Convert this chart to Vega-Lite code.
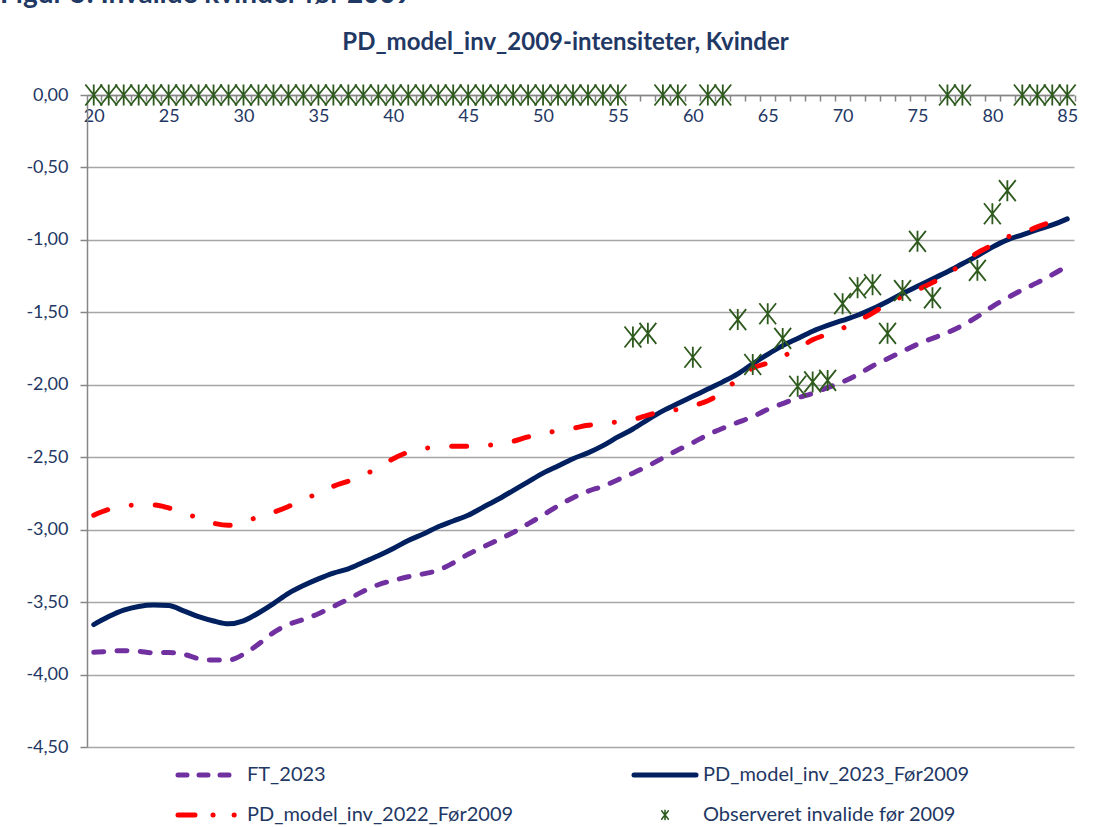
{
  "$schema": "https://vega.github.io/schema/vega-lite/v6.json",
  "padding": {"left": 0, "top": -20, "right": 0, "bottom": 0},
  "background": "white",
  "config": {"font": "Lato", "view": {"stroke": null}, "concat": {"spacing": 0}},
  "title": {"text": "Figur 5: Invalide kvinder før 2009", "anchor": "start", "fontSize": 28, "fontWeight": "bold", "color": "#1F3864", "offset": 22},
  "data": {"values": [
    {"age":20,"series":"FT_2023","v":-3.846},{"age":21,"series":"FT_2023","v":-3.84},{"age":22,"series":"FT_2023","v":-3.835},{"age":23,"series":"FT_2023","v":-3.84},{"age":24,"series":"FT_2023","v":-3.85},{"age":25,"series":"FT_2023","v":-3.848},{"age":26,"series":"FT_2023","v":-3.86},{"age":27,"series":"FT_2023","v":-3.89},{"age":28,"series":"FT_2023","v":-3.90},{"age":29,"series":"FT_2023","v":-3.90},{"age":30,"series":"FT_2023","v":-3.86},{"age":31,"series":"FT_2023","v":-3.79},{"age":32,"series":"FT_2023","v":-3.71},{"age":33,"series":"FT_2023","v":-3.655},{"age":34,"series":"FT_2023","v":-3.62},{"age":35,"series":"FT_2023","v":-3.58},{"age":36,"series":"FT_2023","v":-3.53},{"age":37,"series":"FT_2023","v":-3.48},{"age":38,"series":"FT_2023","v":-3.425},{"age":39,"series":"FT_2023","v":-3.38},{"age":40,"series":"FT_2023","v":-3.35},{"age":41,"series":"FT_2023","v":-3.325},{"age":42,"series":"FT_2023","v":-3.305},{"age":43,"series":"FT_2023","v":-3.28},{"age":44,"series":"FT_2023","v":-3.23},{"age":45,"series":"FT_2023","v":-3.17},{"age":46,"series":"FT_2023","v":-3.12},{"age":47,"series":"FT_2023","v":-3.07},{"age":48,"series":"FT_2023","v":-3.02},{"age":49,"series":"FT_2023","v":-2.96},{"age":50,"series":"FT_2023","v":-2.90},{"age":51,"series":"FT_2023","v":-2.835},{"age":52,"series":"FT_2023","v":-2.78},{"age":53,"series":"FT_2023","v":-2.735},{"age":54,"series":"FT_2023","v":-2.70},{"age":55,"series":"FT_2023","v":-2.655},{"age":56,"series":"FT_2023","v":-2.61},{"age":57,"series":"FT_2023","v":-2.56},{"age":58,"series":"FT_2023","v":-2.505},{"age":59,"series":"FT_2023","v":-2.45},{"age":60,"series":"FT_2023","v":-2.40},{"age":61,"series":"FT_2023","v":-2.345},{"age":62,"series":"FT_2023","v":-2.30},{"age":63,"series":"FT_2023","v":-2.26},{"age":64,"series":"FT_2023","v":-2.22},{"age":65,"series":"FT_2023","v":-2.17},{"age":66,"series":"FT_2023","v":-2.13},{"age":67,"series":"FT_2023","v":-2.09},{"age":68,"series":"FT_2023","v":-2.06},{"age":69,"series":"FT_2023","v":-2.02},{"age":70,"series":"FT_2023","v":-1.98},{"age":71,"series":"FT_2023","v":-1.93},{"age":72,"series":"FT_2023","v":-1.87},{"age":73,"series":"FT_2023","v":-1.82},{"age":74,"series":"FT_2023","v":-1.77},{"age":75,"series":"FT_2023","v":-1.72},{"age":76,"series":"FT_2023","v":-1.68},{"age":77,"series":"FT_2023","v":-1.64},{"age":78,"series":"FT_2023","v":-1.59},{"age":79,"series":"FT_2023","v":-1.53},{"age":80,"series":"FT_2023","v":-1.46},{"age":81,"series":"FT_2023","v":-1.40},{"age":82,"series":"FT_2023","v":-1.345},{"age":83,"series":"FT_2023","v":-1.295},{"age":84,"series":"FT_2023","v":-1.24},{"age":85,"series":"FT_2023","v":-1.18},
    {"age":20,"series":"PD_model_inv_2023_Før2009","v":-3.655},{"age":21,"series":"PD_model_inv_2023_Før2009","v":-3.60},{"age":22,"series":"PD_model_inv_2023_Før2009","v":-3.556},{"age":23,"series":"PD_model_inv_2023_Før2009","v":-3.53},{"age":24,"series":"PD_model_inv_2023_Før2009","v":-3.52},{"age":25,"series":"PD_model_inv_2023_Før2009","v":-3.524},{"age":26,"series":"PD_model_inv_2023_Før2009","v":-3.56},{"age":27,"series":"PD_model_inv_2023_Før2009","v":-3.60},{"age":28,"series":"PD_model_inv_2023_Før2009","v":-3.63},{"age":29,"series":"PD_model_inv_2023_Før2009","v":-3.65},{"age":30,"series":"PD_model_inv_2023_Før2009","v":-3.63},{"age":31,"series":"PD_model_inv_2023_Før2009","v":-3.575},{"age":32,"series":"PD_model_inv_2023_Før2009","v":-3.51},{"age":33,"series":"PD_model_inv_2023_Før2009","v":-3.44},{"age":34,"series":"PD_model_inv_2023_Før2009","v":-3.386},{"age":35,"series":"PD_model_inv_2023_Før2009","v":-3.34},{"age":36,"series":"PD_model_inv_2023_Før2009","v":-3.30},{"age":37,"series":"PD_model_inv_2023_Før2009","v":-3.27},{"age":38,"series":"PD_model_inv_2023_Før2009","v":-3.225},{"age":39,"series":"PD_model_inv_2023_Før2009","v":-3.18},{"age":40,"series":"PD_model_inv_2023_Før2009","v":-3.13},{"age":41,"series":"PD_model_inv_2023_Før2009","v":-3.075},{"age":42,"series":"PD_model_inv_2023_Før2009","v":-3.03},{"age":43,"series":"PD_model_inv_2023_Før2009","v":-2.98},{"age":44,"series":"PD_model_inv_2023_Før2009","v":-2.94},{"age":45,"series":"PD_model_inv_2023_Før2009","v":-2.90},{"age":46,"series":"PD_model_inv_2023_Før2009","v":-2.845},{"age":47,"series":"PD_model_inv_2023_Før2009","v":-2.79},{"age":48,"series":"PD_model_inv_2023_Før2009","v":-2.73},{"age":49,"series":"PD_model_inv_2023_Før2009","v":-2.67},{"age":50,"series":"PD_model_inv_2023_Før2009","v":-2.61},{"age":51,"series":"PD_model_inv_2023_Før2009","v":-2.56},{"age":52,"series":"PD_model_inv_2023_Før2009","v":-2.51},{"age":53,"series":"PD_model_inv_2023_Før2009","v":-2.47},{"age":54,"series":"PD_model_inv_2023_Før2009","v":-2.42},{"age":55,"series":"PD_model_inv_2023_Før2009","v":-2.36},{"age":56,"series":"PD_model_inv_2023_Før2009","v":-2.305},{"age":57,"series":"PD_model_inv_2023_Før2009","v":-2.24},{"age":58,"series":"PD_model_inv_2023_Før2009","v":-2.18},{"age":59,"series":"PD_model_inv_2023_Før2009","v":-2.13},{"age":60,"series":"PD_model_inv_2023_Før2009","v":-2.08},{"age":61,"series":"PD_model_inv_2023_Før2009","v":-2.03},{"age":62,"series":"PD_model_inv_2023_Før2009","v":-1.98},{"age":63,"series":"PD_model_inv_2023_Før2009","v":-1.925},{"age":64,"series":"PD_model_inv_2023_Før2009","v":-1.855},{"age":65,"series":"PD_model_inv_2023_Før2009","v":-1.79},{"age":66,"series":"PD_model_inv_2023_Før2009","v":-1.73},{"age":67,"series":"PD_model_inv_2023_Før2009","v":-1.68},{"age":68,"series":"PD_model_inv_2023_Før2009","v":-1.63},{"age":69,"series":"PD_model_inv_2023_Før2009","v":-1.59},{"age":70,"series":"PD_model_inv_2023_Før2009","v":-1.556},{"age":71,"series":"PD_model_inv_2023_Før2009","v":-1.52},{"age":72,"series":"PD_model_inv_2023_Før2009","v":-1.476},{"age":73,"series":"PD_model_inv_2023_Før2009","v":-1.425},{"age":74,"series":"PD_model_inv_2023_Før2009","v":-1.37},{"age":75,"series":"PD_model_inv_2023_Før2009","v":-1.32},{"age":76,"series":"PD_model_inv_2023_Før2009","v":-1.27},{"age":77,"series":"PD_model_inv_2023_Før2009","v":-1.22},{"age":78,"series":"PD_model_inv_2023_Før2009","v":-1.165},{"age":79,"series":"PD_model_inv_2023_Før2009","v":-1.11},{"age":80,"series":"PD_model_inv_2023_Før2009","v":-1.05},{"age":81,"series":"PD_model_inv_2023_Før2009","v":-1.00},{"age":82,"series":"PD_model_inv_2023_Før2009","v":-0.965},{"age":83,"series":"PD_model_inv_2023_Før2009","v":-0.93},{"age":84,"series":"PD_model_inv_2023_Før2009","v":-0.897},{"age":85,"series":"PD_model_inv_2023_Før2009","v":-0.855},
    {"age":20,"series":"PD_model_inv_2022_Før2009","v":-2.90},{"age":21,"series":"PD_model_inv_2022_Før2009","v":-2.86},{"age":22,"series":"PD_model_inv_2022_Før2009","v":-2.835},{"age":23,"series":"PD_model_inv_2022_Før2009","v":-2.83},{"age":24,"series":"PD_model_inv_2022_Før2009","v":-2.83},{"age":25,"series":"PD_model_inv_2022_Før2009","v":-2.85},{"age":26,"series":"PD_model_inv_2022_Før2009","v":-2.885},{"age":27,"series":"PD_model_inv_2022_Før2009","v":-2.92},{"age":28,"series":"PD_model_inv_2022_Før2009","v":-2.955},{"age":29,"series":"PD_model_inv_2022_Før2009","v":-2.97},{"age":30,"series":"PD_model_inv_2022_Før2009","v":-2.95},{"age":31,"series":"PD_model_inv_2022_Før2009","v":-2.91},{"age":32,"series":"PD_model_inv_2022_Før2009","v":-2.88},{"age":33,"series":"PD_model_inv_2022_Før2009","v":-2.84},{"age":34,"series":"PD_model_inv_2022_Før2009","v":-2.79},{"age":35,"series":"PD_model_inv_2022_Før2009","v":-2.75},{"age":36,"series":"PD_model_inv_2022_Før2009","v":-2.70},{"age":37,"series":"PD_model_inv_2022_Før2009","v":-2.665},{"age":38,"series":"PD_model_inv_2022_Før2009","v":-2.625},{"age":39,"series":"PD_model_inv_2022_Før2009","v":-2.57},{"age":40,"series":"PD_model_inv_2022_Før2009","v":-2.51},{"age":41,"series":"PD_model_inv_2022_Før2009","v":-2.465},{"age":42,"series":"PD_model_inv_2022_Før2009","v":-2.44},{"age":43,"series":"PD_model_inv_2022_Før2009","v":-2.43},{"age":44,"series":"PD_model_inv_2022_Før2009","v":-2.425},{"age":45,"series":"PD_model_inv_2022_Før2009","v":-2.425},{"age":46,"series":"PD_model_inv_2022_Før2009","v":-2.42},{"age":47,"series":"PD_model_inv_2022_Før2009","v":-2.41},{"age":48,"series":"PD_model_inv_2022_Før2009","v":-2.39},{"age":49,"series":"PD_model_inv_2022_Før2009","v":-2.36},{"age":50,"series":"PD_model_inv_2022_Før2009","v":-2.34},{"age":51,"series":"PD_model_inv_2022_Før2009","v":-2.315},{"age":52,"series":"PD_model_inv_2022_Før2009","v":-2.30},{"age":53,"series":"PD_model_inv_2022_Før2009","v":-2.28},{"age":54,"series":"PD_model_inv_2022_Før2009","v":-2.27},{"age":55,"series":"PD_model_inv_2022_Før2009","v":-2.255},{"age":56,"series":"PD_model_inv_2022_Før2009","v":-2.24},{"age":57,"series":"PD_model_inv_2022_Før2009","v":-2.21},{"age":58,"series":"PD_model_inv_2022_Før2009","v":-2.18},{"age":59,"series":"PD_model_inv_2022_Før2009","v":-2.17},{"age":60,"series":"PD_model_inv_2022_Før2009","v":-2.145},{"age":61,"series":"PD_model_inv_2022_Før2009","v":-2.11},{"age":62,"series":"PD_model_inv_2022_Før2009","v":-2.05},{"age":63,"series":"PD_model_inv_2022_Før2009","v":-1.96},{"age":64,"series":"PD_model_inv_2022_Før2009","v":-1.885},{"age":65,"series":"PD_model_inv_2022_Før2009","v":-1.85},{"age":66,"series":"PD_model_inv_2022_Før2009","v":-1.805},{"age":67,"series":"PD_model_inv_2022_Før2009","v":-1.75},{"age":68,"series":"PD_model_inv_2022_Før2009","v":-1.69},{"age":69,"series":"PD_model_inv_2022_Før2009","v":-1.65},{"age":70,"series":"PD_model_inv_2022_Før2009","v":-1.61},{"age":71,"series":"PD_model_inv_2022_Før2009","v":-1.56},{"age":72,"series":"PD_model_inv_2022_Før2009","v":-1.505},{"age":73,"series":"PD_model_inv_2022_Før2009","v":-1.44},{"age":74,"series":"PD_model_inv_2022_Før2009","v":-1.39},{"age":75,"series":"PD_model_inv_2022_Før2009","v":-1.345},{"age":76,"series":"PD_model_inv_2022_Før2009","v":-1.295},{"age":77,"series":"PD_model_inv_2022_Før2009","v":-1.24},{"age":78,"series":"PD_model_inv_2022_Før2009","v":-1.16},{"age":79,"series":"PD_model_inv_2022_Før2009","v":-1.09},{"age":80,"series":"PD_model_inv_2022_Før2009","v":-1.035},{"age":81,"series":"PD_model_inv_2022_Før2009","v":-0.98},{"age":82,"series":"PD_model_inv_2022_Før2009","v":-0.955},{"age":83,"series":"PD_model_inv_2022_Før2009","v":-0.91},{"age":84,"series":"PD_model_inv_2022_Før2009","v":-0.874},{"age":85,"series":"PD_model_inv_2022_Før2009","v":-0.845},
    {"age":20,"series":"Observeret invalide før 2009","v":0},{"age":21,"series":"Observeret invalide før 2009","v":0},{"age":22,"series":"Observeret invalide før 2009","v":0},{"age":23,"series":"Observeret invalide før 2009","v":0},{"age":24,"series":"Observeret invalide før 2009","v":0},{"age":25,"series":"Observeret invalide før 2009","v":0},{"age":26,"series":"Observeret invalide før 2009","v":0},{"age":27,"series":"Observeret invalide før 2009","v":0},{"age":28,"series":"Observeret invalide før 2009","v":0},{"age":29,"series":"Observeret invalide før 2009","v":0},{"age":30,"series":"Observeret invalide før 2009","v":0},{"age":31,"series":"Observeret invalide før 2009","v":0},{"age":32,"series":"Observeret invalide før 2009","v":0},{"age":33,"series":"Observeret invalide før 2009","v":0},{"age":34,"series":"Observeret invalide før 2009","v":0},{"age":35,"series":"Observeret invalide før 2009","v":0},{"age":36,"series":"Observeret invalide før 2009","v":0},{"age":37,"series":"Observeret invalide før 2009","v":0},{"age":38,"series":"Observeret invalide før 2009","v":0},{"age":39,"series":"Observeret invalide før 2009","v":0},{"age":40,"series":"Observeret invalide før 2009","v":0},{"age":41,"series":"Observeret invalide før 2009","v":0},{"age":42,"series":"Observeret invalide før 2009","v":0},{"age":43,"series":"Observeret invalide før 2009","v":0},{"age":44,"series":"Observeret invalide før 2009","v":0},{"age":45,"series":"Observeret invalide før 2009","v":0},{"age":46,"series":"Observeret invalide før 2009","v":0},{"age":47,"series":"Observeret invalide før 2009","v":0},{"age":48,"series":"Observeret invalide før 2009","v":0},{"age":49,"series":"Observeret invalide før 2009","v":0},{"age":50,"series":"Observeret invalide før 2009","v":0},{"age":51,"series":"Observeret invalide før 2009","v":0},{"age":52,"series":"Observeret invalide før 2009","v":0},{"age":53,"series":"Observeret invalide før 2009","v":0},{"age":54,"series":"Observeret invalide før 2009","v":0},{"age":55,"series":"Observeret invalide før 2009","v":0},{"age":56,"series":"Observeret invalide før 2009","v":-1.67},{"age":57,"series":"Observeret invalide før 2009","v":-1.645},{"age":58,"series":"Observeret invalide før 2009","v":0},{"age":59,"series":"Observeret invalide før 2009","v":0},{"age":60,"series":"Observeret invalide før 2009","v":-1.81},{"age":61,"series":"Observeret invalide før 2009","v":0},{"age":62,"series":"Observeret invalide før 2009","v":0},{"age":63,"series":"Observeret invalide før 2009","v":-1.55},{"age":64,"series":"Observeret invalide før 2009","v":-1.86},{"age":65,"series":"Observeret invalide før 2009","v":-1.51},{"age":66,"series":"Observeret invalide før 2009","v":-1.68},{"age":67,"series":"Observeret invalide før 2009","v":-2.01},{"age":68,"series":"Observeret invalide før 2009","v":-1.98},{"age":69,"series":"Observeret invalide før 2009","v":-1.97},{"age":70,"series":"Observeret invalide før 2009","v":-1.44},{"age":71,"series":"Observeret invalide før 2009","v":-1.33},{"age":72,"series":"Observeret invalide før 2009","v":-1.31},{"age":73,"series":"Observeret invalide før 2009","v":-1.645},{"age":74,"series":"Observeret invalide før 2009","v":-1.35},{"age":75,"series":"Observeret invalide før 2009","v":-1.01},{"age":76,"series":"Observeret invalide før 2009","v":-1.40},{"age":77,"series":"Observeret invalide før 2009","v":0},{"age":78,"series":"Observeret invalide før 2009","v":0},{"age":79,"series":"Observeret invalide før 2009","v":-1.21},{"age":80,"series":"Observeret invalide før 2009","v":-0.82},{"age":81,"series":"Observeret invalide før 2009","v":-0.66},{"age":82,"series":"Observeret invalide før 2009","v":0},{"age":83,"series":"Observeret invalide før 2009","v":0},{"age":84,"series":"Observeret invalide før 2009","v":0},{"age":85,"series":"Observeret invalide før 2009","v":0}
  ]},
  "vconcat": [{
    "width": 987,
    "height": 652,
    "title": {"text": "PD_model_inv_2009-intensiteter, Kvinder", "anchor": "middle", "fontSize": 24, "fontWeight": "bold", "color": "#1F3864", "dx": -15, "offset": 26},
    "encoding": {
      "x": {"field": "age", "type": "quantitative",
        "scale": {"domain": [19.55, 85.45], "nice": false, "zero": false},
        "axis": {"orient": "bottom", "offset": -652, "title": null, "grid": false,
          "values": [20,21,22,23,24,25,26,27,28,29,30,31,32,33,34,35,36,37,38,39,40,41,42,43,44,45,46,47,48,49,50,51,52,53,54,55,56,57,58,59,60,61,62,63,64,65,66,67,68,69,70,71,72,73,74,75,76,77,78,79,80,81,82,83,84,85],
          "labelExpr": "datum.value % 5 === 0 ? datum.label : ''",
          "labelOverlap": false, "labelFlush": false, "labelBound": false,
          "tickOffset": 7.49, "labelOffset": -7.49, "tickSize": 6, "tickColor": "#868686", "tickWidth": 1.5,
          "domainColor": "#868686", "domainWidth": 1.5,
          "labelFontSize": 18, "labelColor": "#1F3864", "labelPadding": 6}},
      "y": {"field": "v", "type": "quantitative",
        "scale": {"domain": [-4.5, 0], "nice": false},
        "axis": {"title": null, "values": [0,-0.5,-1,-1.5,-2,-2.5,-3,-3.5,-4,-4.5],
          "labelExpr": "replace(replace(format(datum.value, '.2f'), '.', ','), '\u2212', '-')",
          "grid": true, "gridColor": "#A6A6A6", "gridWidth": 1.5,
          "domainColor": "#868686", "domainWidth": 1.5, "tickColor": "#868686", "tickWidth": 1.5, "tickSize": 7,
          "labelFontSize": 18, "labelColor": "#1F3864", "labelPadding": 12, "minExtent": 87, "maxExtent": 87}},
      "color": {"field": "series", "type": "nominal",
        "scale": {"domain": ["FT_2023", "PD_model_inv_2023_Før2009", "PD_model_inv_2022_Før2009", "Observeret invalide før 2009"],
                  "range": ["#7030A0", "#002060", "#FF0000", "#2E5A1E"]},
        "legend": {"title": null, "orient": "none", "direction": "horizontal", "legendX": 91, "legendY": 670, "columns": 2, "columnPadding": 110, "rowPadding": 20,
          "symbolSize": 3844, "symbolStrokeWidth": 5, "labelOffset": 7, "labelFontSize": 20, "labelLimit": 600, "labelColor": "#1F3864", "labelBaseline": "middle", "padding": 0,
          "encode": {
            "symbols": {"update": {
              "x": {"value": 31},
              "shape": {"signal": "datum.value === 'Observeret invalide før 2009' ? 'M-0.8,-1L0.8,1M-0.8,1L0.8,-1M0,-1.1L0,1.1' : 'stroke'"},
              "size": {"signal": "datum.value === 'Observeret invalide før 2009' ? 70 : 3844"},
              "strokeWidth": {"signal": "datum.value === 'Observeret invalide før 2009' ? 1.6 : 5"},
              "strokeDash": {"signal": "datum.value === 'FT_2023' ? [9,12] : datum.value === 'PD_model_inv_2022_Før2009' ? [17,18,0.1,21,0.1,100] : [1,0]"},
              "strokeCap": {"value": "round"},
              "stroke": {"scale": "color", "field": "value"},
              "fill": {"value": "transparent"},
              "opacity": {"value": 1}
            }},
            "labels": {"update": {"x": {"value": 69}}}
          }}
      }
    },
    "layer": [
      {"transform": [{"filter": "datum.series === 'FT_2023'"}],
       "mark": {"type": "line", "strokeWidth": 5, "strokeDash": [10, 13.3], "strokeCap": "round", "interpolate": "monotone"}},
      {"transform": [{"filter": "datum.series === 'PD_model_inv_2023_Før2009'"}],
       "mark": {"type": "line", "strokeWidth": 5, "strokeCap": "round", "interpolate": "monotone"}},
      {"transform": [{"filter": "datum.series === 'PD_model_inv_2022_Før2009'"}],
       "mark": {"type": "line", "strokeWidth": 5, "strokeDash": [15, 24, 0.01, 24], "strokeCap": "round", "interpolate": "monotone"}},
      {"transform": [{"filter": "datum.series === 'Observeret invalide før 2009'"}],
       "mark": {"type": "point", "shape": "M-0.8,-1L0.8,1M-0.8,1L0.8,-1M0,-1L0,1", "size": 441, "filled": false, "strokeWidth": 1.8, "opacity": 1}}
    ]
  }]
}
